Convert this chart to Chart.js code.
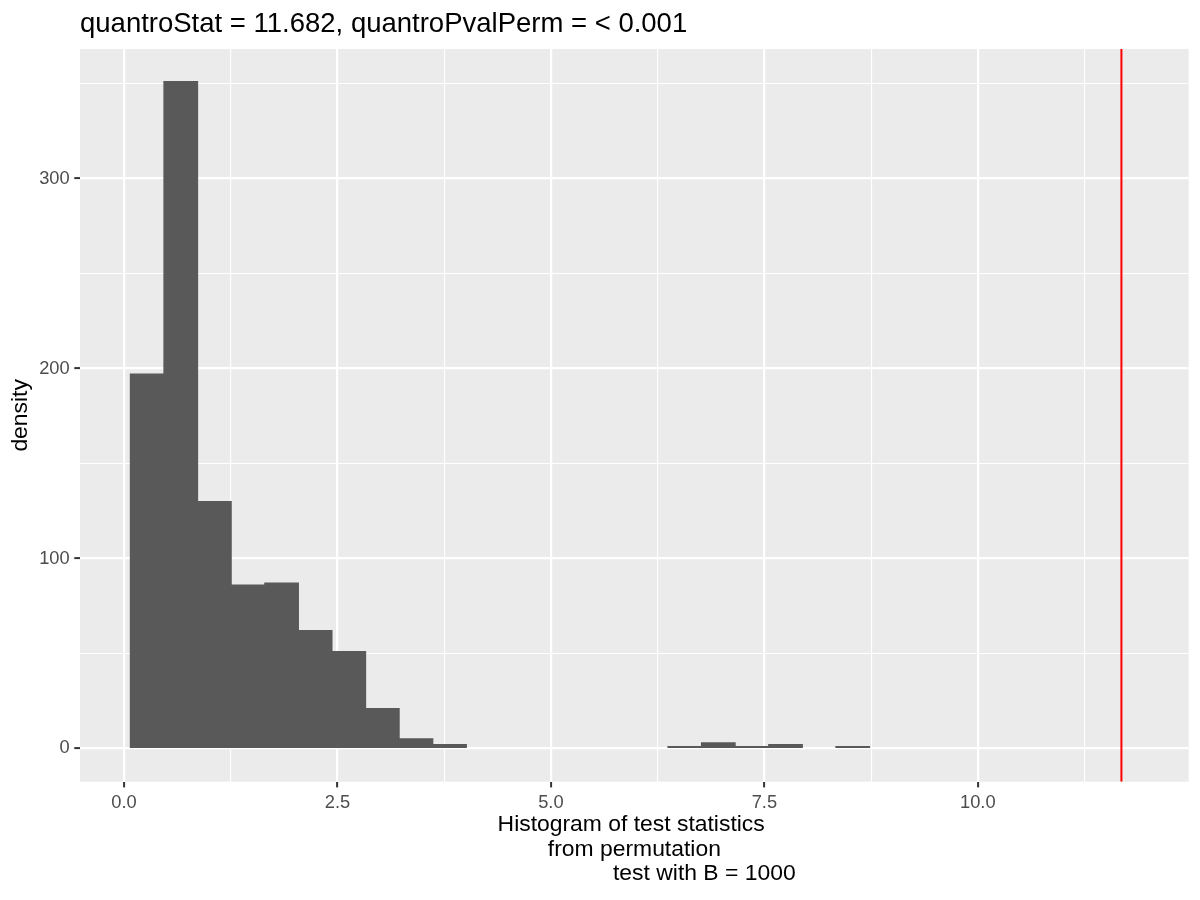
<!DOCTYPE html>
<html>
<head>
<meta charset="utf-8">
<script src="https://cdn.jsdelivr.net/npm/chart.js@4.4.1/dist/chart.umd.min.js"></script>
<style>
  html, body { margin: 0; padding: 0; background: #ffffff; }
  #wrap { width: 1200px; height: 900px; }
</style>
</head>
<body>
<div id="wrap"><canvas id="chart"></canvas></div>
<script>
// histogram bins (centres) and densities
const binCenters = [0.272, 0.665, 1.059, 1.452, 1.846, 2.239, 2.633, 3.026, 3.420, 3.813,
                    4.207, 4.600, 4.994, 5.387, 5.781, 6.174, 6.568, 6.961, 7.355, 7.748,
                    8.142, 8.535, 8.929, 9.322, 9.716, 10.109, 10.503, 10.896, 11.290, 11.683];
const densities = [197, 351, 130, 86, 87, 62, 51, 21, 5, 2,
                   0, 0, 0, 0, 0, 0, 1, 3, 1, 2,
                   0, 1, 0, 0, 0, 0, 0, 0, 0, 0];
const quantroStat = 11.682;

const xMajor = [0, 2.5, 5, 7.5, 10];
const xMinor = [1.25, 3.75, 6.25, 8.75, 11.25];
const xTickLabels = ['0.0', '2.5', '5.0', '7.5', '10.0'];
const yMajor = [0, 100, 200, 300];
const yMinor = [50, 150, 250, 350];
const yTickLabels = ['0', '100', '200', '300'];

const xRange = [-0.515, 12.47];
const yRange = [-17.5, 368.2];

const titleText = 'quantroStat = 11.682, quantroPvalPerm = < 0.001';
const xTitle = ['Histogram of test statistics ', 'from permutation',
                '                      test with B = 1000'];
const yTitle = 'density';

Chart.defaults.font.family = '"Liberation Sans", Arial, sans-serif';

const panelBg = {
  id: 'panelBg',
  beforeDraw(chart) {
    const { ctx, chartArea: a } = chart;
    ctx.save();
    ctx.fillStyle = '#EBEBEB';
    ctx.fillRect(a.left, a.top, a.right - a.left, a.bottom - a.top);
    ctx.restore();
  }
};

function isMajor(list, c) {
  if (!c || !c.tick) return false;
  return list.some(m => Math.abs(m - c.tick.value) < 1e-9);
}

const ctx = document.getElementById('chart').getContext('2d');
new Chart(ctx, {
  type: 'bar',
  data: {
    datasets: [
      {
        label: 'density',
        // empty bins are left out so no hairline shows on the baseline
        data: binCenters.map((x, i) => ({ x: x, y: densities[i] === 0 ? null : densities[i] })),
        backgroundColor: '#595959',
        borderWidth: 0,
        inflateAmount: 0.6,
        barPercentage: 1,
        categoryPercentage: 1,
        order: 2
      },
      {
        type: 'line',
        label: 'quantroStat',
        data: [{ x: quantroStat, y: yRange[0] }, { x: quantroStat, y: yRange[1] }],
        borderColor: '#FF0000',
        borderWidth: 2,
        pointRadius: 0,
        order: 1
      }
    ]
  },
  options: {
    responsive: true,
    maintainAspectRatio: false,
    animation: false,
    layout: { padding: { left: 0, right: 11.3, top: 0, bottom: 0 } },
    plugins: {
      legend: { display: false },
      tooltip: { enabled: false },
      title: {
        display: true,
        text: titleText,
        align: 'start',
        fullSize: false,
        color: '#000000',
        font: { size: 27.5, weight: 'normal', lineHeight: 1.2 },
        padding: { top: 8, bottom: 8 }
      }
    },
    scales: {
      x: {
        type: 'linear',
        min: xRange[0],
        max: xRange[1],
        offset: false,
        afterBuildTicks(scale) {
          scale.ticks = xMajor.concat(xMinor).sort((a, b) => a - b).map(v => ({ value: v }));
        },
        afterFit(scale) { scale.height = 118.3; },
        ticks: {
          autoSkip: false,
          maxRotation: 0,
          padding: 4.6,
          color: '#4D4D4D',
          font: { size: 18.3 },
          callback(value) {
            const i = xMajor.findIndex(m => Math.abs(m - value) < 1e-9);
            return i >= 0 ? xTickLabels[i] : '';
          }
        },
        grid: {
          offset: false,
          color: '#FFFFFF',
          lineWidth: c => (isMajor(xMajor, c) ? 2.2 : 1.1),
          tickLength: 5.7,
          tickWidth: 2,
          tickColor: c => (isMajor(xMajor, c) ? '#333333' : 'rgba(0,0,0,0)')
        },
        border: { display: false },
        title: {
          display: true,
          text: xTitle,
          color: '#000000',
          font: { size: 22.9, lineHeight: 1.07 },
          padding: { top: 0, bottom: 14 }
        }
      },
      y: {
        type: 'linear',
        min: yRange[0],
        max: yRange[1],
        afterBuildTicks(scale) {
          scale.ticks = yMajor.concat(yMinor).sort((a, b) => a - b).map(v => ({ value: v }));
        },
        afterFit(scale) { scale.width = 80; },
        ticks: {
          autoSkip: false,
          padding: 4.6,
          color: '#4D4D4D',
          font: { size: 18.3 },
          callback(value) {
            const i = yMajor.findIndex(m => Math.abs(m - value) < 1e-9);
            return i >= 0 ? yTickLabels[i] : '';
          }
        },
        grid: {
          color: '#FFFFFF',
          lineWidth: c => (isMajor(yMajor, c) ? 2.2 : 1.1),
          tickLength: 5.7,
          tickWidth: 2,
          tickColor: c => (isMajor(yMajor, c) ? '#333333' : 'rgba(0,0,0,0)')
        },
        border: { display: false },
        title: {
          display: true,
          text: yTitle,
          color: '#000000',
          font: { size: 22.9, lineHeight: 1.2 },
          padding: { top: 6.8, bottom: 0 }
        }
      }
    }
  },
  plugins: [panelBg]
});
</script>
</body>
</html>
